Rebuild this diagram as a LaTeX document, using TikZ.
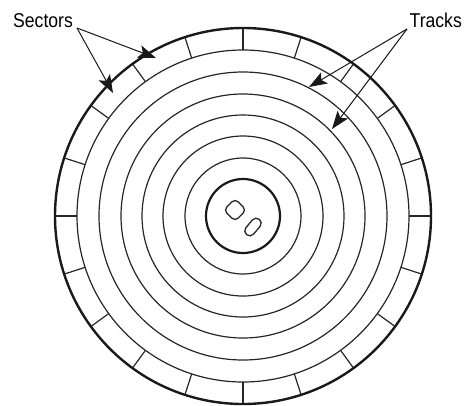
\documentclass[tikz,border=0pt]{standalone}
\usepackage{fontspec}
\setmainfont{Liberation Sans}[FakeStretch=0.88]
\usetikzlibrary{arrows.meta,calc}
\begin{document}
\begin{tikzpicture}[x=1pt,y=-1pt,
  rim/.style={line width=2.4pt, draw=black!90},
  trackline/.style={line width=1.2pt, draw=black!85},
  hub/.style={line width=2.2pt, draw=black!90},
  sectorline/.style={line width=1.2pt, draw=black!85},
  hole/.style={line width=1.3pt, draw=black!85},
  pointer/.style={line width=1pt, draw=black!90, -{Stealth[length=18pt,width=13pt,inset=4pt]}},
  lbl/.style={font=\fontsize{20}{22}\selectfont, inner sep=0pt, text=black}]
\useasboundingbox (0,0) rectangle (465,405);
\coordinate (c) at (243,216);
% sector lines
\foreach \a in {0,18,...,342}
  \draw[sectorline] ($(c)+(\a:166pt)$) -- ($(c)+(\a:188pt)$);
% tracks
\foreach \r in {58,80,101,122,144,166}
  \draw[trackline] (c) circle[radius=\r pt];
\draw[rim] (c) circle[radius=188pt];
\draw[hub] (c) circle[radius=37pt];
% holes
\draw[hole, rounded corners=4.5pt, rotate around={45:(235,210)}] (227,202) rectangle (243,218);
\draw[hole, rounded corners=5pt, rotate around={50:(253,227)}] (243,222) rectangle (263,232);
% labels
\node[lbl, anchor=base west] (sectors) at (13,27) {Sectors};
\node[lbl, anchor=base east] (tracks) at (462,27) {Tracks};
\coordinate (sfrom) at (77,28);
\coordinate (tfrom) at (407,29);
\coordinate (s1) at (156,58);
\coordinate (s2) at (113,93);
\coordinate (t1) at (309,87);
\coordinate (t2) at (332,129);
\draw[pointer] (sfrom) -- (s1);
\draw[pointer] (sfrom) -- (s2);
\draw[pointer] (tfrom) -- (t1);
\draw[pointer] (tfrom) -- (t2);
\end{tikzpicture}
\end{document}
